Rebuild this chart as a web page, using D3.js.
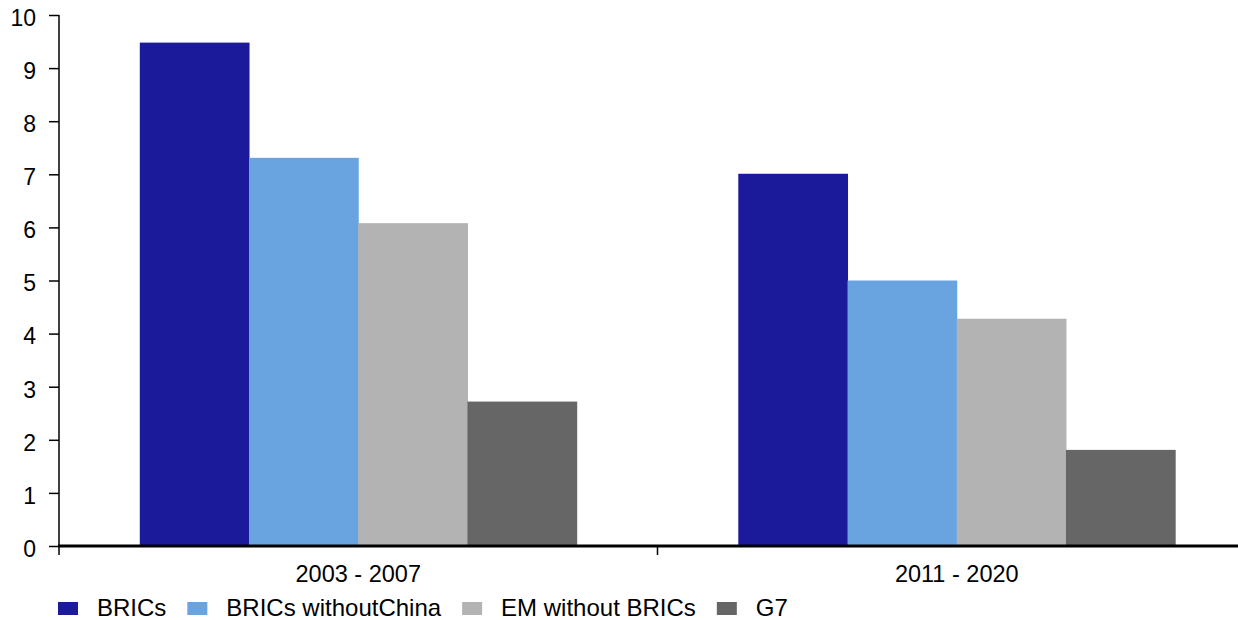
<!DOCTYPE html>
<html><head><meta charset="utf-8">
<script src="https://cdn.jsdelivr.net/npm/d3@7"></script>
<style>body{margin:0;background:#fff}svg{display:block}text{font-family:"Liberation Sans",Arial,sans-serif;fill:#000}</style>
</head><body>
<svg id="c" width="1238" height="620"></svg>
<script>
const categories = ["2003 - 2007", "2011 - 2020"];
const seriesNames = ["BRICs", "BRICs withoutChina", "EM without BRICs", "G7"];
const bricsValues = [9.48, 7.01];
const bricsNoChinaValues = [7.31, 5.0];
const emNoBricsValues = [6.08, 4.28];
const g7Values = [2.72, 1.81];
const yTicks = [0,1,2,3,4,5,6,7,8,9,10];
const colors = ["#1a1a9a", "#6aa4e0", "#b3b3b3", "#666666"];

const seriesValues = [bricsValues, bricsNoChinaValues, emNoBricsValues, g7Values];
const svg = d3.select("#c");
const x0 = 59, x1 = 1256, yTop = 15, yBot = 546;
const FONT = '"Liberation Sans",Arial,sans-serif';

const x = d3.scaleBand().domain(categories).range([x0, x1]).paddingInner(0.27).paddingOuter(0.135);
const xs = d3.scaleBand().domain(seriesNames).range([0, x.bandwidth()]);
const y = d3.scaleLinear().domain([0, 10]).range([yBot, yTop]);

// bars
categories.forEach((c, ci) => {
  seriesNames.forEach((s, si) => {
    const v = seriesValues[si][ci];
    svg.append("rect")
      .attr("x", x(c) + xs(s))
      .attr("y", y(v))
      .attr("width", xs.bandwidth() + 0.5)
      .attr("height", y(0) - y(v))
      .attr("fill", colors[si]);
  });
});

// y axis
const yAxis = d3.axisLeft(y).tickValues(yTicks).tickSize(10).tickPadding(13).tickFormat(d3.format("d"));
const gy = svg.append("g").attr("transform", `translate(${x0},0)`).call(yAxis);
gy.select(".domain").attr("stroke", "#000").attr("stroke-width", 1.5).attr("d", `M0,${yTop}V${yBot}`);
gy.selectAll(".tick line").attr("stroke", "#000").attr("stroke-width", 1.5);
gy.selectAll(".tick text").attr("font-size", 23).attr("font-family", FONT).attr("dy", "0.45em");

// x axis
const xAxis = d3.axisBottom(x).tickSize(0).tickPadding(19);
const gx = svg.append("g").attr("transform", `translate(0,${yBot})`).call(xAxis);
gx.select(".domain").remove();
gx.selectAll(".tick text").attr("font-size", 23.5).attr("font-family", FONT);
svg.append("line").attr("x1", x0 - 1).attr("x2", 1238).attr("y1", yBot).attr("y2", yBot)
  .attr("stroke", "#000").attr("stroke-width", 3);
// boundary ticks between categories
const bounds = [x0, (x(categories[0]) + x.bandwidth() + x(categories[1])) / 2];
svg.selectAll(".bt").data(bounds).enter().append("line")
  .attr("x1", d => d).attr("x2", d => d).attr("y1", yBot).attr("y2", yBot + 9)
  .attr("stroke", "#000").attr("stroke-width", 1.5);

// legend
const lg = svg.append("g");
let lx = 58;
seriesNames.forEach((s, i) => {
  lg.append("rect").attr("x", lx).attr("y", 602).attr("width", 20).attr("height", 13).attr("fill", colors[i]);
  const t = lg.append("text").attr("x", lx + 39).attr("y", 616).attr("font-size", 24).attr("font-family", FONT).text(s);
  lx = lx + 39 + t.node().getComputedTextLength() + 21;
});
</script>
</body></html>
